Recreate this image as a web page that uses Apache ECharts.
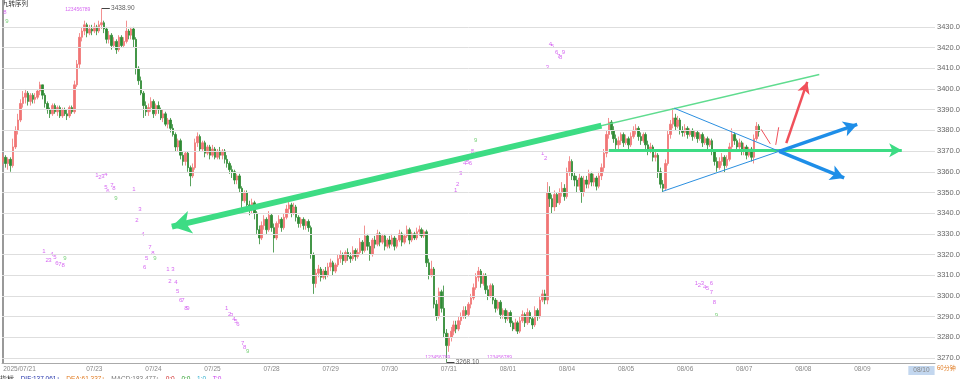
<!DOCTYPE html>
<html><head><meta charset="utf-8">
<script src="https://cdn.jsdelivr.net/npm/echarts@6/dist/echarts.min.js"></script>
<style>html,body{margin:0;padding:0;background:#fff}#c{width:960px;height:379px}</style>
</head><body><div id="c"></div>
<script>
// ---- days / categories ----
const dayNames = ['07/21','07/22','07/23','07/24','07/25','07/28','07/29','07/30','07/31','08/01','08/04','08/05','08/06','08/07','08/08','08/09','08/10'];
const daySlots = [13,24,24,24,24,24,24,24,24,24,24,24,24,24,24,24,6];
const dayLabels = ['2025/07/21','','07/23','07/24','07/25','07/28','07/29','07/30','07/31','08/01','08/04','08/05','08/06','08/07','08/08','08/09','08/10'];
const yTickValues = [3270,3280,3290,3300,3310,3320,3330,3340,3350,3360,3370,3380,3390,3400,3410,3420,3430];
// ---- candles per day: [close, high, low]; open = previous close ----
const firstOpen = 3365;
const d0721 = [[3367,3369,3363],[3364,3368,3362],[3366,3367,3361],[3363,3367,3360],[3372,3376,3362],[3380,3382,3371],[3385,3388,3378],[3393,3395,3384],[3396,3399,3391],[3398,3400,3393],[3394,3399,3392],[3397,3398,3392],[3395,3398,3393]];
const d0722 = [[3396,3398,3393],[3399,3400,3395],[3402,3403.5,3397],[3397,3402,3395],[3393,3398,3391],[3390,3394,3388],[3388,3391,3386],[3392,3393,3387],[3389,3393,3388],[3391,3392,3387],[3387,3392,3386],[3390,3391,3386],[3388,3391,3387],[3387,3390,3385],[3391,3392,3386],[3389,3392,3388],[3402,3404,3388],[3412,3414,3401],[3425,3427,3410],[3428,3430,3423],[3431,3433,3426],[3427,3432,3425],[3429,3431,3426],[3428,3431,3426]];
const d0723 = [[3430,3432,3427],[3428,3431,3426],[3431,3433,3427],[3432,3438.9,3429],[3429,3433,3427],[3424,3430,3422],[3426,3428,3422],[3421,3427,3419],[3423,3425,3420],[3419,3424,3417],[3425,3426,3418],[3421,3426,3420],[3423,3425,3420],[3428,3433,3422],[3426,3429,3424],[3429,3430,3424],[3424,3430,3420],[3410,3425,3407],[3404,3411,3402],[3398,3406,3397],[3392,3399,3386],[3389,3394,3387],[3391,3393,3387],[3394,3396,3389]];
const d0724 = [[3388,3395,3386],[3392,3393,3387],[3390,3394,3388],[3386,3391,3385],[3388,3390,3384],[3383,3389,3382],[3385,3386,3381],[3381,3386,3379],[3378,3383,3377],[3372,3379,3370],[3375,3376,3370],[3368,3376,3366],[3365,3370,3363],[3369,3370,3363],[3362,3370,3360],[3358,3363,3353],[3362,3364,3357],[3374,3376,3361],[3377,3379,3372],[3371,3378,3370],[3374,3375,3370],[3369,3375,3367],[3372,3373,3368],[3368,3373,3366]];
const d0725 = [[3371,3373,3367],[3367,3372,3366],[3370,3371,3366],[3368,3372,3366],[3370,3371,3366],[3366,3371,3364],[3364,3368,3362],[3361,3365,3359],[3360,3363,3357],[3356,3361,3354],[3358,3359,3354],[3352,3359,3350],[3346,3353,3342],[3350,3351,3345],[3344,3351,3341],[3342,3346,3339],[3345,3347,3340],[3340,3346,3337],[3332,3341,3330],[3328,3334,3325],[3334,3336,3327],[3337,3339,3332],[3332,3338,3330],[3339,3341,3331]];
const d0728 = [[3333,3340,3331],[3328,3335,3321],[3335,3336,3327],[3337,3339,3333],[3333,3338,3331],[3338,3340,3332],[3342,3344,3337],[3344,3346,3340],[3340,3345,3338],[3343,3345,3339],[3338,3344,3336],[3335,3339,3333],[3337,3338,3333],[3334,3338,3332],[3336,3337,3332],[3333,3337,3331],[3320,3334,3318],[3306,3321,3301],[3311,3313,3304],[3313,3315,3309],[3309,3314,3307],[3312,3313,3308],[3310,3314,3308],[3314,3316,3309]];
const d0729 = [[3316,3318,3312],[3312,3317,3310],[3315,3316,3311],[3318,3320,3314],[3320,3322,3316],[3317,3321,3315],[3321,3322,3316],[3319,3323,3317],[3318,3321,3316],[3322,3324,3317],[3319,3323,3317],[3321,3323,3318],[3326,3328,3320],[3322,3327,3320],[3329,3334,3321],[3324,3330,3322],[3320,3326,3317],[3327,3328,3319],[3325,3329,3323],[3330,3332,3324],[3326,3331,3324],[3329,3330,3325],[3324,3330,3322],[3327,3328,3323]];
const d0730 = [[3325,3329,3323],[3328,3330,3324],[3324,3329,3322],[3327,3328,3323],[3330,3332,3326],[3326,3331,3324],[3329,3330,3325],[3332,3334,3328],[3327,3333,3325],[3330,3331,3326],[3328,3331,3327],[3331,3333,3327],[3332,3334,3329],[3329,3333,3328],[3331,3332,3328],[3316,3332,3314],[3310,3318,3308],[3313,3317,3309],[3296,3314,3294],[3290,3298,3288],[3302,3304,3289],[3294,3303,3292],[3282,3305,3280],[3276,3284,3268.1]];
const d0731 = [[3280,3282,3273],[3283,3285,3278],[3286,3288,3281],[3284,3288,3282],[3288,3290,3283],[3290,3292,3286],[3293,3295,3289],[3291,3295,3289],[3296,3297,3290],[3299,3301,3294],[3304,3306,3298],[3309,3311,3303],[3312,3314,3307],[3306,3313,3304],[3310,3311,3305],[3303,3311,3301],[3300,3305,3298],[3305,3306,3299],[3298,3306,3296],[3294,3299,3292],[3297,3298,3293],[3291,3298,3289],[3293,3294,3289],[3289,3294,3287]];
const d0801 = [[3292,3293,3288],[3287,3293,3285],[3284,3288,3283],[3287,3289,3283],[3283,3288,3281.6],[3288,3290,3282],[3291,3293,3287],[3287,3292,3285],[3292,3294,3286],[3289,3293,3287],[3286,3290,3284],[3293,3295,3285],[3290,3294,3288],[3298,3300,3289],[3301,3303,3297],[3298,3303,3296],[3350,3355,3296],[3347,3353,3343],[3343,3349,3340],[3349,3351,3341],[3345,3350,3343],[3350,3352,3344],[3352,3355,3348],[3348,3354,3346]];
const d0804 = [[3360,3362,3347],[3365,3367.5,3358],[3358,3366,3356],[3356,3360,3353],[3353,3358,3350],[3357,3359,3351],[3350,3358,3345],[3356,3358,3348],[3354,3358,3352],[3359,3361,3352],[3355,3360,3353],[3357,3359,3353],[3353,3358,3351],[3358,3360,3352],[3362,3364,3356],[3369,3371,3360],[3378,3380,3367],[3384,3386,3376],[3380,3385,3378],[3376,3382,3374],[3373,3378,3371],[3375,3377,3371],[3378,3379,3373],[3374,3379,3372]];
const d0805 = [[3376,3378,3373],[3373,3377,3371],[3377,3379,3372],[3380,3382,3376],[3381,3383,3378],[3377,3382,3375],[3375,3379,3373],[3378,3379,3374],[3373,3379,3371],[3370,3375,3368],[3372,3374,3369],[3367,3373,3365],[3368,3370,3365],[3360,3369,3357],[3354,3362,3352],[3352,3356,3350],[3364,3366,3351],[3378,3380,3363],[3383,3385,3376],[3386,3390.7,3381],[3382,3388,3380],[3385,3387,3381],[3380,3386,3378],[3379,3382,3377]];
const d0806 = [[3381,3383,3377],[3378,3382,3376],[3380,3381,3377],[3377,3381,3375],[3379,3380,3376],[3376,3380,3374],[3378,3379,3375],[3374,3379,3372],[3376,3377,3373],[3373,3377,3371],[3375,3376,3372],[3370,3376,3368],[3365,3371,3363],[3362,3367,3360],[3365,3367,3361],[3367,3369,3363],[3363,3368,3359.7],[3366,3368,3362],[3372,3374,3365],[3378,3381,3371],[3375,3379,3373],[3372,3376,3370],[3374,3376,3371],[3370,3375,3368]];
const d0807 = [[3372,3374,3368],[3368,3373,3366],[3371,3372,3367],[3367,3372,3365],[3376,3378,3364],[3382,3384,3375],[3379.4,3383,3377]];
const lastPrice = 3379.40;
const highInfo = [40, 3438.90];
const lowInfo = [180, 3268.10];
// TD sequential marks: [slot position, price, text, colour]
const tdMarks = [
 [0.7,3436.8,'8','m'],[1.5,3432.9,'9','g'],
 [38.1,3358.2,'1','m'],[39.3,3357.3,'2','m'],[40.5,3357.8,'3','m'],[41.7,3358.7,'4','m'],[41.7,3352.4,'5','m'],[42.5,3350.5,'6','m'],[44.1,3353.4,'7','m'],[45.0,3351.9,'8','m'],[45.8,3347.1,'9','g'],
 [53.1,3351.5,'1','m'],[55.5,3341.8,'3','m'],[54.3,3336.4,'2','m'],[56.7,3329.6,'4','m'],[59.6,3323.3,'7','m'],[60.8,3320.4,'8','m'],[58.3,3318.0,'5','m'],[61.6,3318.0,'9','g'],[57.5,3313.6,'6','m'],
 [16.5,3321.4,'1','m'],[17.8,3317.0,'2','m'],[19.0,3317.0,'3','m'],[19.8,3319.9,'4','m'],[21.0,3318.5,'5','m'],[21.8,3315.6,'6','m'],[23.0,3315.2,'7','m'],[24.3,3314.6,'8','m'],[25.1,3318.0,'9','g'],
 [66.9,3312.7,'1','m'],[68.9,3312.7,'3','m'],[67.7,3306.9,'2','m'],[70.1,3306.4,'4','m'],[70.9,3302.0,'5','m'],[72.1,3298.1,'6','m'],[73.0,3298.1,'7','m'],[74.2,3294.2,'8','m'],[75.0,3294.2,'9','m'],
 [90.8,3294.2,'1','m'],[92.0,3291.3,'2','m'],[92.8,3290.8,'3','m'],[93.7,3288.9,'4','m'],[94.5,3287.9,'5','m'],[95.3,3286.5,'6','m'],[97.3,3277.3,'7','m'],[98.1,3275.3,'8','m'],[99.3,3273.4,'9','g'],
 [183.8,3351.0,'1','m'],[184.6,3353.9,'2','m'],[185.8,3359.2,'3','m'],[187.4,3364.1,'4','m'],[188.6,3364.5,'5','m'],[189.8,3364.1,'6','m'],[189.0,3366.0,'7','m'],[190.6,3369.9,'8','m'],[191.9,3375.2,'9','g'],
 [219.1,3368.9,'1','m'],[220.3,3366.5,'2','m'],
 [221.1,3410.6,'3','m'],[222.3,3421.8,'4','m'],[223.1,3420.8,'5','m'],[224.8,3417.9,'6','m'],[225.6,3415.9,'7','m'],[226.4,3415.5,'8','m'],[227.6,3417.9,'9','m'],
 [281.6,3305.9,'1','m'],[282.8,3304.9,'2','m'],[284.0,3305.9,'3','m'],[284.9,3304.0,'4','m'],[286.1,3303.5,'5','m'],[287.7,3305.9,'6','m'],[287.7,3301.5,'7','m'],[288.9,3296.7,'8','m'],[289.7,3290.8,'9','g'],
 [30.3,3438.2,'123456789','m'],[176.5,3270.0,'123456789','m'],[201.6,3270.0,'123456789','m']
];
// drawn lines: [x1,y1,x2,y2,colour,width,arrow]
const drawings = [
 [68.5,3333.5,331.5,3407.0,'#5fdc8f',1.3,false],
 [243,3382.3,68.5,3333.5,'#3ddc84',6,true],
 [246,3370.4,365,3370.4,'#3ddc84',3,true],
 [272.6,3390.7,315.2,3369.9,'#2b8fe0',1,false],
 [315.2,3369.9,341.6,3357.0,'#1e8ee8',3.5,true],
 [267.8,3350.5,315.2,3369.9,'#2b8fe0',1,false],
 [315.2,3369.9,346.9,3382.9,'#1e8ee8',3.5,true],
 [307.9,3380.5,311.6,3373.5,'#f0505a',1,false],
 [313.8,3373.0,315.0,3381.5,'#f0505a',1,false],
 [318.1,3373.8,326.6,3403.4,'#f0505a',2.5,true]
];

// ---- build ----
const categories = [], labelMap = {};
let idx = 0;
dayNames.forEach((d, k) => {
  labelMap[idx] = dayLabels[k];
  for (let h = 0; h < daySlots[k]; h++) categories.push(d + '-' + h);
  idx += daySlots[k];
});
const rows = [].concat(d0721,d0722,d0723,d0724,d0725,d0728,d0729,d0730,d0731,d0801,d0804,d0805,d0806,d0807);
const candles = [];
let prev = firstOpen;
rows.forEach(r => { candles.push([prev, r[0], r[2], r[1]]); prev = r[0]; });
while (candles.length < categories.length) candles.push('-');

const COL = {m:'#cc44ee', g:'#55c455'};
const tdData = tdMarks.map(t => ({value:[t[0], t[1]], label:{show:true, formatter:t[2], color:COL[t[3]], fontSize: t[2].length > 1 ? 5 : 6}}));

const mlData = drawings.map(d => [
  {coord:[d[0], d[1]], symbol:'none', lineStyle:{color:d[4], width:d[5], type:'solid', opacity:1}},
  {coord:[d[2], d[3]], symbol: d[6] ? 'arrow' : 'none', symbolSize: d[6] ? [d[5]*2.2+4, d[5]*2.2+6] : 0}
]);
mlData.push([{coord:[highInfo[0], highInfo[1]], symbol:'none', lineStyle:{color:'#444', width:1, type:'solid'}},{coord:[highInfo[0]+3.3, highInfo[1]], symbol:'none'}]);
mlData.push([{coord:[lowInfo[0], lowInfo[1]], symbol:'none', lineStyle:{color:'#444', width:1, type:'solid'}},{coord:[lowInfo[0]+3.3, lowInfo[1]], symbol:'none'}]);

const gridLines = yTickValues.map(v => ({yAxis:v}));

const chart = echarts.init(document.getElementById('c'), null, {renderer:'canvas'});
chart.setOption({
  animation:false,
  backgroundColor:'#fff',
  grid:{left:2, right:25, top:0, bottom:16, containLabel:false, outerBoundsMode:'none'},
  xAxis:[{
    type:'category', data:categories, boundaryGap:true,
    axisLine:{show:true, lineStyle:{color:'#aaa'}}, axisTick:{show:false},
    splitLine:{show:false},
    axisLabel:{
      interval:(i) => labelMap[i] !== undefined && labelMap[i] !== '',
      formatter:(v, i) => i === 373 ? '{hl|' + labelMap[i] + '}' : (labelMap[i] || ''),
      fontSize:6.5, color:'#888', margin:3, fontFamily:'Arial, Liberation Sans',
      alignMinLabel:'left', hideOverlap:false,
      rich:{hl:{backgroundColor:'#c3d7ef', color:'#888', fontSize:6.5, padding:[1,5]}}
    }
  },{
    type:'value', min:-0.5, max:categories.length - 0.5, show:false
  }],
  yAxis:[{
    type:'value', position:'right', min:3267.6, max:3443, scale:true,
    axisLine:{show:true, lineStyle:{color:'#999'}},
    axisTick:{show:true, length:3, lineStyle:{color:'#999'}, customValues:yTickValues},
    axisLabel:{customValues:yTickValues, formatter:v => v.toFixed(2), fontSize:7.5, color:'#666', margin:2, fontFamily:'Arial, Liberation Sans'},
    splitLine:{show:false}
  },{
    type:'value', position:'left', min:3267.6, max:3443,
    axisLine:{show:true, lineStyle:{color:'#999'}}, axisTick:{show:false}, axisLabel:{show:false}, splitLine:{show:false}
  }],
  series:[{
    type:'candlestick', data:candles, xAxisIndex:0, yAxisIndex:0, barWidth:2,
    itemStyle:{color:'#f07575', color0:'#2f8a34', borderColor:'#f07575', borderColor0:'#2f8a34', borderWidth:0.8},
    markLine:{silent:true, symbol:'none', animation:false, label:{show:false},
      lineStyle:{color:'#dedede', width:1, type:'solid'},
      data:gridLines.concat([{yAxis:lastPrice, lineStyle:{opacity:0}, label:{show:true, position:'end', formatter:lastPrice.toFixed(2), color:'#e03030', fontSize:7.5, distance:2}}])}
  },{
    type:'scatter', xAxisIndex:1, yAxisIndex:0, symbolSize:0, silent:true,
    data:tdData,
    label:{show:true, position:'inside', fontFamily:'Arial'},
    markLine:{silent:true, animation:false, label:{show:false}, data:mlData}
  },{
    type:'scatter', xAxisIndex:1, yAxisIndex:0, symbolSize:0, silent:true,
    data:[
      {value:[highInfo[0]+3.4, highInfo[1]], label:{show:true, position:'right', distance:1, formatter:highInfo[1].toFixed(2), color:'#333', fontSize:6.5}},
      {value:[lowInfo[0]+3.4, lowInfo[1]], label:{show:true, position:'right', distance:1, formatter:lowInfo[1].toFixed(2), color:'#333', fontSize:6.5}}
    ]
  }],
  graphic:[
    {type:'text', left:2, top:0, style:{text:'九转序列', font:'6.5px "Noto Sans CJK SC"', fill:'#333'}},
    {type:'text', left:937, top:365, style:{text:'60分钟', font:'6px "Noto Sans CJK SC"', fill:'#e07a20'}},
    {type:'text', left:0, top:373, style:{
      text:'{a|指标}  {b|DIF:137.061↑}  {c|DEA:61.337↑}  {d|MACD:183.477↑}  {e|0:0}  {f|0:0}  {g|1:0}  {h|T:0}',
      rich:{a:{fill:'#222',fontSize:6.5},b:{fill:'#2233aa',fontSize:6.5},c:{fill:'#e07a20',fontSize:6.5},d:{fill:'#777',fontSize:6.5},e:{fill:'#d03030',fontSize:6.5},f:{fill:'#30a030',fontSize:6.5},g:{fill:'#30b0d0',fontSize:6.5},h:{fill:'#cc44ee',fontSize:6.5}}
    }}
  ]
});
</script></body></html>
